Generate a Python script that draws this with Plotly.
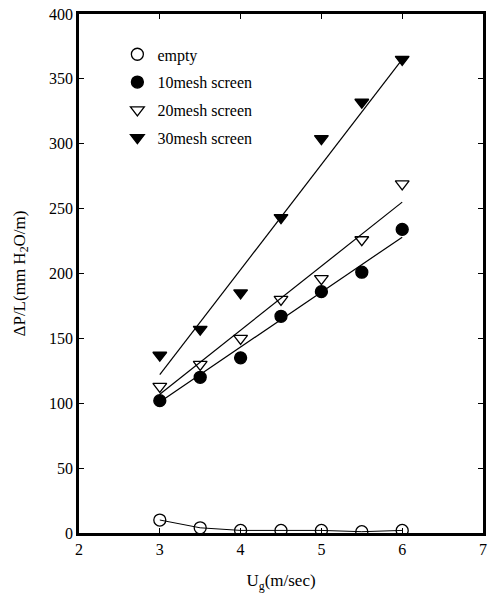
import plotly.graph_objects as go

ug = [3.0, 3.5, 4.0, 4.5, 5.0, 5.5, 6.0]
empty = [10, 4, 2, 2, 2, 1, 2]
mesh10 = [102, 120, 135, 167, 186, 201, 234]
mesh20 = [113, 130, 150, 180, 196, 226, 269]
mesh30 = [137, 157, 185, 243, 304, 332, 365]

fit_x = [3.0, 6.0]
fit10 = [101, 228]
fit20 = [107, 255]
fit30 = [122, 365]

names = ["empty", "10mesh screen", "20mesh screen", "30mesh screen"]
series = [empty, mesh10, mesh20, mesh30]
symbols = ["circle-open", "circle", "triangle-down-open", "triangle-down"]

fig = go.Figure()

# fitted lines
fig.add_trace(go.Scatter(x=ug, y=empty, mode="lines", line=dict(color="black", width=1),
                         showlegend=False, hoverinfo="skip"))
for fy in [fit10, fit20, fit30]:
    fig.add_trace(go.Scatter(x=fit_x, y=fy, mode="lines", line=dict(color="black", width=1.2),
                             showlegend=False, hoverinfo="skip"))

for n, s, sym in zip(names, series, symbols):
    fig.add_trace(go.Scatter(x=ug, y=s, mode="markers", name=n, legendgroup=n,
                             marker=dict(symbol=sym, size=12, color="black",
                                         line=dict(color="black", width=1.3))))

fig.update_layout(
    width=489, height=593,
    margin=dict(l=79, r=3, t=14, b=60),
    paper_bgcolor="white", plot_bgcolor="white",
    font=dict(family="Liberation Serif", color="black", size=16),
    showlegend=True,
    legend=dict(x=0.095, y=0.955, xanchor="left", yanchor="top", bgcolor="rgba(0,0,0,0)",
                font=dict(size=16), tracegroupgap=4, itemwidth=30),
    xaxis=dict(range=[2, 7], dtick=1, showline=True, linecolor="black", linewidth=2.5,
               mirror="ticks", ticks="inside", ticklen=5, tickwidth=1, tickcolor="black",
               showgrid=False, zeroline=False, tickfont=dict(size=16),
               title=dict(text="U<sub>g</sub>(m/sec)", font=dict(size=17), standoff=20)),
    yaxis=dict(range=[0, 400], dtick=50, showline=True, linecolor="black", linewidth=2.5,
               mirror="ticks", ticks="inside", ticklen=5, tickwidth=1, tickcolor="black",
               showgrid=False, zeroline=False, tickfont=dict(size=16),
               title=dict(text="ΔP/L(mm H<sub>2</sub>O/m)", font=dict(size=17), standoff=20)),
)

fig.write_html("out.html")
